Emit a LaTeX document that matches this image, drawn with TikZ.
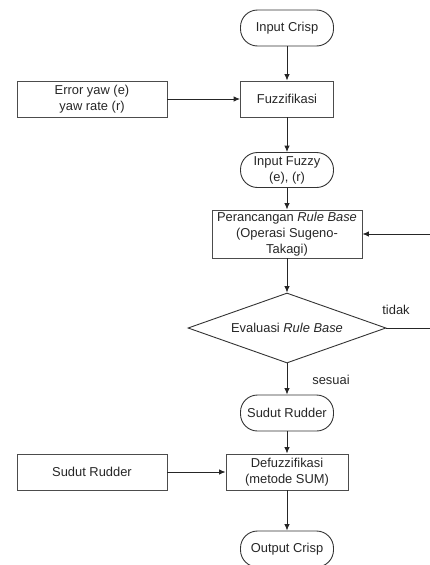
\documentclass[tikz,border=0pt]{standalone}
\usepackage{fontspec}
\setmainfont{Liberation Sans}
\usetikzlibrary{shapes.geometric,arrows.meta}
\begin{document}
\begin{tikzpicture}[x=1pt,y=-1pt,
  every node/.style={font=\fontsize{12.9}{16}\selectfont, text=black!85, align=center, inner sep=1pt},
  boxst/.style={draw=black!70, line width=0.9pt, rectangle, minimum height=36pt},
  termst/.style={draw=black!80, line width=0.9pt, rectangle, rounded corners=17pt, minimum width=93pt, minimum height=36pt},
  decst/.style={draw=black!80, line width=0.9pt, diamond, aspect=2.83, minimum width=198pt, minimum height=70pt, inner sep=0pt},
  conn/.style={draw=black!85, line width=0.9pt, -{Latex[length=6.5pt,width=5.5pt]}},
  lbl/.style={font=\fontsize{12.9}{16}\selectfont}
]
\useasboundingbox (0,0) rectangle (430,565);
\node[termst] (crisp) at (287,28) {Input Crisp};
\node[boxst, minimum width=93pt] (fuzz) at (287,99) {Fuzzifikasi};
\node[boxst, minimum width=150pt] (err) at (92,99) {Error yaw (e)\\yaw rate (r)};
\node[termst, minimum height=35pt] (infz) at (287,170) {Input Fuzzy\\(e), (r)};
\node[boxst, minimum width=150pt, minimum height=48pt] (rule) at (287,234) {Perancangan \textit{Rule Base}\\(Operasi Sugeno-\\Takagi)};
\node[decst] (eval) at (287,328) {Evaluasi \textit{Rule Base}};
\node[termst] (sudut) at (287,413) {Sudut Rudder};
\node[boxst, minimum width=122pt] (defz) at (287,472) {Defuzzifikasi\\(metode SUM)};
\node[boxst, minimum width=150pt] (sudl) at (92,472) {Sudut Rudder};
\node[termst] (out) at (287,549) {Output Crisp};
\coordinate (fbA) at (430,328);
\coordinate (fbB) at (430,234);
\node[lbl] (tidak) at (396,310) {tidak};
\node[lbl] (sesuai) at (331,380) {sesuai};

\draw[conn] (crisp) -- (fuzz);
\draw[conn] (err) -- (fuzz);
\draw[conn] (fuzz) -- (infz);
\draw[conn] (infz) -- (rule);
\draw[conn] (rule) -- (eval);
\draw[conn] (eval.east) -- (fbA) -- (fbB) -- (rule.east);
\draw[conn] (eval) -- (sudut);
\draw[conn] (sudut) -- (defz);
\draw[conn] (sudl) -- (defz);
\draw[conn] (defz) -- (out);
\end{tikzpicture}
\end{document}
